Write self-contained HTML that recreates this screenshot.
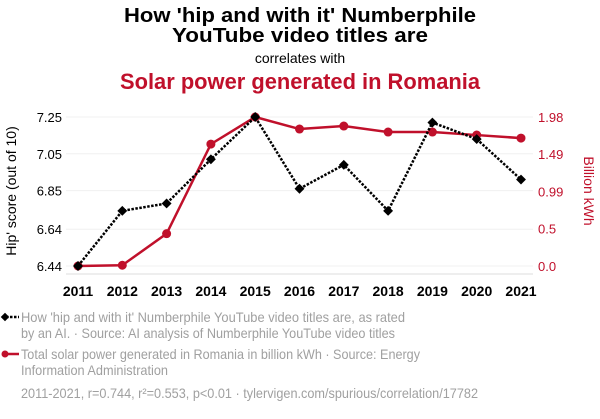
<!DOCTYPE html>
<html><head><meta charset="utf-8"><style>
body{margin:0;background:#fff;width:600px;height:414px;overflow:hidden;font-family:"Liberation Sans",sans-serif}
</style></head><body>
<svg id="chart" width="600" height="414" xmlns="http://www.w3.org/2000/svg" font-family="Liberation Sans, sans-serif">
<text x="300" y="22" text-anchor="middle" font-size="20" font-weight="bold" fill="#000" textLength="352" lengthAdjust="spacingAndGlyphs">How 'hip and with it' Numberphile</text>
<text x="300" y="42" text-anchor="middle" font-size="20" font-weight="bold" fill="#000" textLength="256" lengthAdjust="spacingAndGlyphs">YouTube video titles are</text>
<text x="300" y="63" text-anchor="middle" font-size="14" fill="#000">correlates with</text>
<text x="300" y="89" text-anchor="middle" font-size="22" font-weight="bold" fill="#c0102b" textLength="360" lengthAdjust="spacingAndGlyphs">Solar power generated in Romania</text>
<g id="grid"></g><g id="axes"></g><g id="marks"></g>
<text transform="translate(16,191) rotate(-90)" text-anchor="middle" font-size="14" fill="#000">Hip' score (out of 10)</text>
<text transform="translate(584,191) rotate(90)" text-anchor="middle" font-size="14" fill="#c0102b">Billion kWh</text>
<g>
<line x1="2" y1="317" x2="19" y2="317" stroke="#000" stroke-width="2.5" stroke-dasharray="2.5,1.5"/>
<rect x="2" y="314" width="6" height="6" transform="rotate(45 5 317)" fill="#000"/>
<text x="21" y="322" font-size="14" fill="#a0a0a0" textLength="384" lengthAdjust="spacingAndGlyphs">How 'hip and with it' Numberphile YouTube video titles are, as rated</text>
<text x="21" y="338" font-size="14" fill="#a0a0a0" textLength="374" lengthAdjust="spacingAndGlyphs">by an AI. · Source: AI analysis of Numberphile YouTube video titles</text>
</g>
<g>
<line x1="2" y1="354" x2="19" y2="354" stroke="#c0102b" stroke-width="2.5"/>
<circle cx="5" cy="354" r="3.5" fill="#c0102b"/>
<text x="21" y="359" font-size="14" fill="#a0a0a0" textLength="399" lengthAdjust="spacingAndGlyphs">Total solar power generated in Romania in billion kWh · Source: Energy</text>
<text x="21" y="375" font-size="14" fill="#a0a0a0" textLength="147" lengthAdjust="spacingAndGlyphs">Information Administration</text>
</g>
<text x="21" y="398" font-size="14" fill="#a0a0a0" textLength="457" lengthAdjust="spacingAndGlyphs">2011-2021, r=0.744, r²=0.553, p&lt;0.01 · tylervigen.com/spurious/correlation/17782</text>
</svg>
<script>
const years=[2011,2012,2013,2014,2015,2016,2017,2018,2019,2020,2021];
const hipScores=[6.44,6.74,6.78,7.02,7.25,6.86,6.99,6.74,7.22,7.13,6.91];
const solarKwh=[0.0,0.01,0.43,1.62,1.98,1.82,1.86,1.78,1.78,1.74,1.70];
const leftTicks=[6.44,6.64,6.85,7.05,7.25];
const leftTickLabels=["6.44","6.64","6.85","7.05","7.25"];
const rightTicks=[0,0.5,0.99,1.49,1.98];
const rightTickLabels=["0.0","0.5","0.99","1.49","1.98"];
const NS="http://www.w3.org/2000/svg";
const x=y=>78+(y-2011)*(521-78)/10;
const yL=v=>266-(v-6.44)/(7.25-6.44)*149;
const yR=v=>266-v/1.98*149;
function mk(tag,attrs,parent){const e=document.createElementNS(NS,tag);for(const k in attrs)e.setAttribute(k,attrs[k]);parent.appendChild(e);return e;}
const grid=document.getElementById('grid'),axes=document.getElementById('axes'),marks=document.getElementById('marks');
leftTicks.forEach((t,i)=>{
 const g=mk('line',{x1:66,x2:533,y1:yL(t),y2:yL(t),stroke:'#f0f0f0','stroke-width':1},grid);
 
 
 const l=mk('text',{x:62,y:yL(t)+5,'text-anchor':'end','font-size':13,fill:'#000'},axes);l.textContent=leftTickLabels[i];
 
 
});
rightTicks.forEach((t,i)=>{
 const l=mk('text',{x:538,y:yR(t)+5,'font-size':13,fill:'#c0102b'},axes);l.textContent=rightTickLabels[i];
 
 
});
const ax=mk('line',{x1:66,x2:533,y1:274,y2:274,stroke:'#ddd','stroke-width':1},axes);


years.forEach(yr=>{
 const l=mk('text',{x:x(yr),y:296,'text-anchor':'middle','font-size':14,'font-weight':'bold',fill:'#000'},axes);l.textContent=yr;
 
 
});
const rp=mk('polyline',{points:years.map((yr,i)=>x(yr)+','+yR(solarKwh[i])).join(' '),fill:'none',stroke:'#c0102b','stroke-width':2.5},marks);


years.forEach((yr,i)=>{
 const c=mk('circle',{cx:x(yr),cy:yR(solarKwh[i]),r:4.5,fill:'#c0102b'},marks);
 
 
});
const bp=mk('polyline',{points:years.map((yr,i)=>x(yr)+','+yL(hipScores[i])).join(' '),fill:'none',stroke:'#000','stroke-width':2.5,'stroke-dasharray':'2.5,1.5'},marks);


years.forEach((yr,i)=>{
 const px=x(yr),py=yL(hipScores[i]);
 const d=mk('rect',{x:px-3.5,y:py-3.5,width:7,height:7,transform:`rotate(45 ${px} ${py})`,fill:'#000'},marks);
 
 
});
</script>
</body></html>
